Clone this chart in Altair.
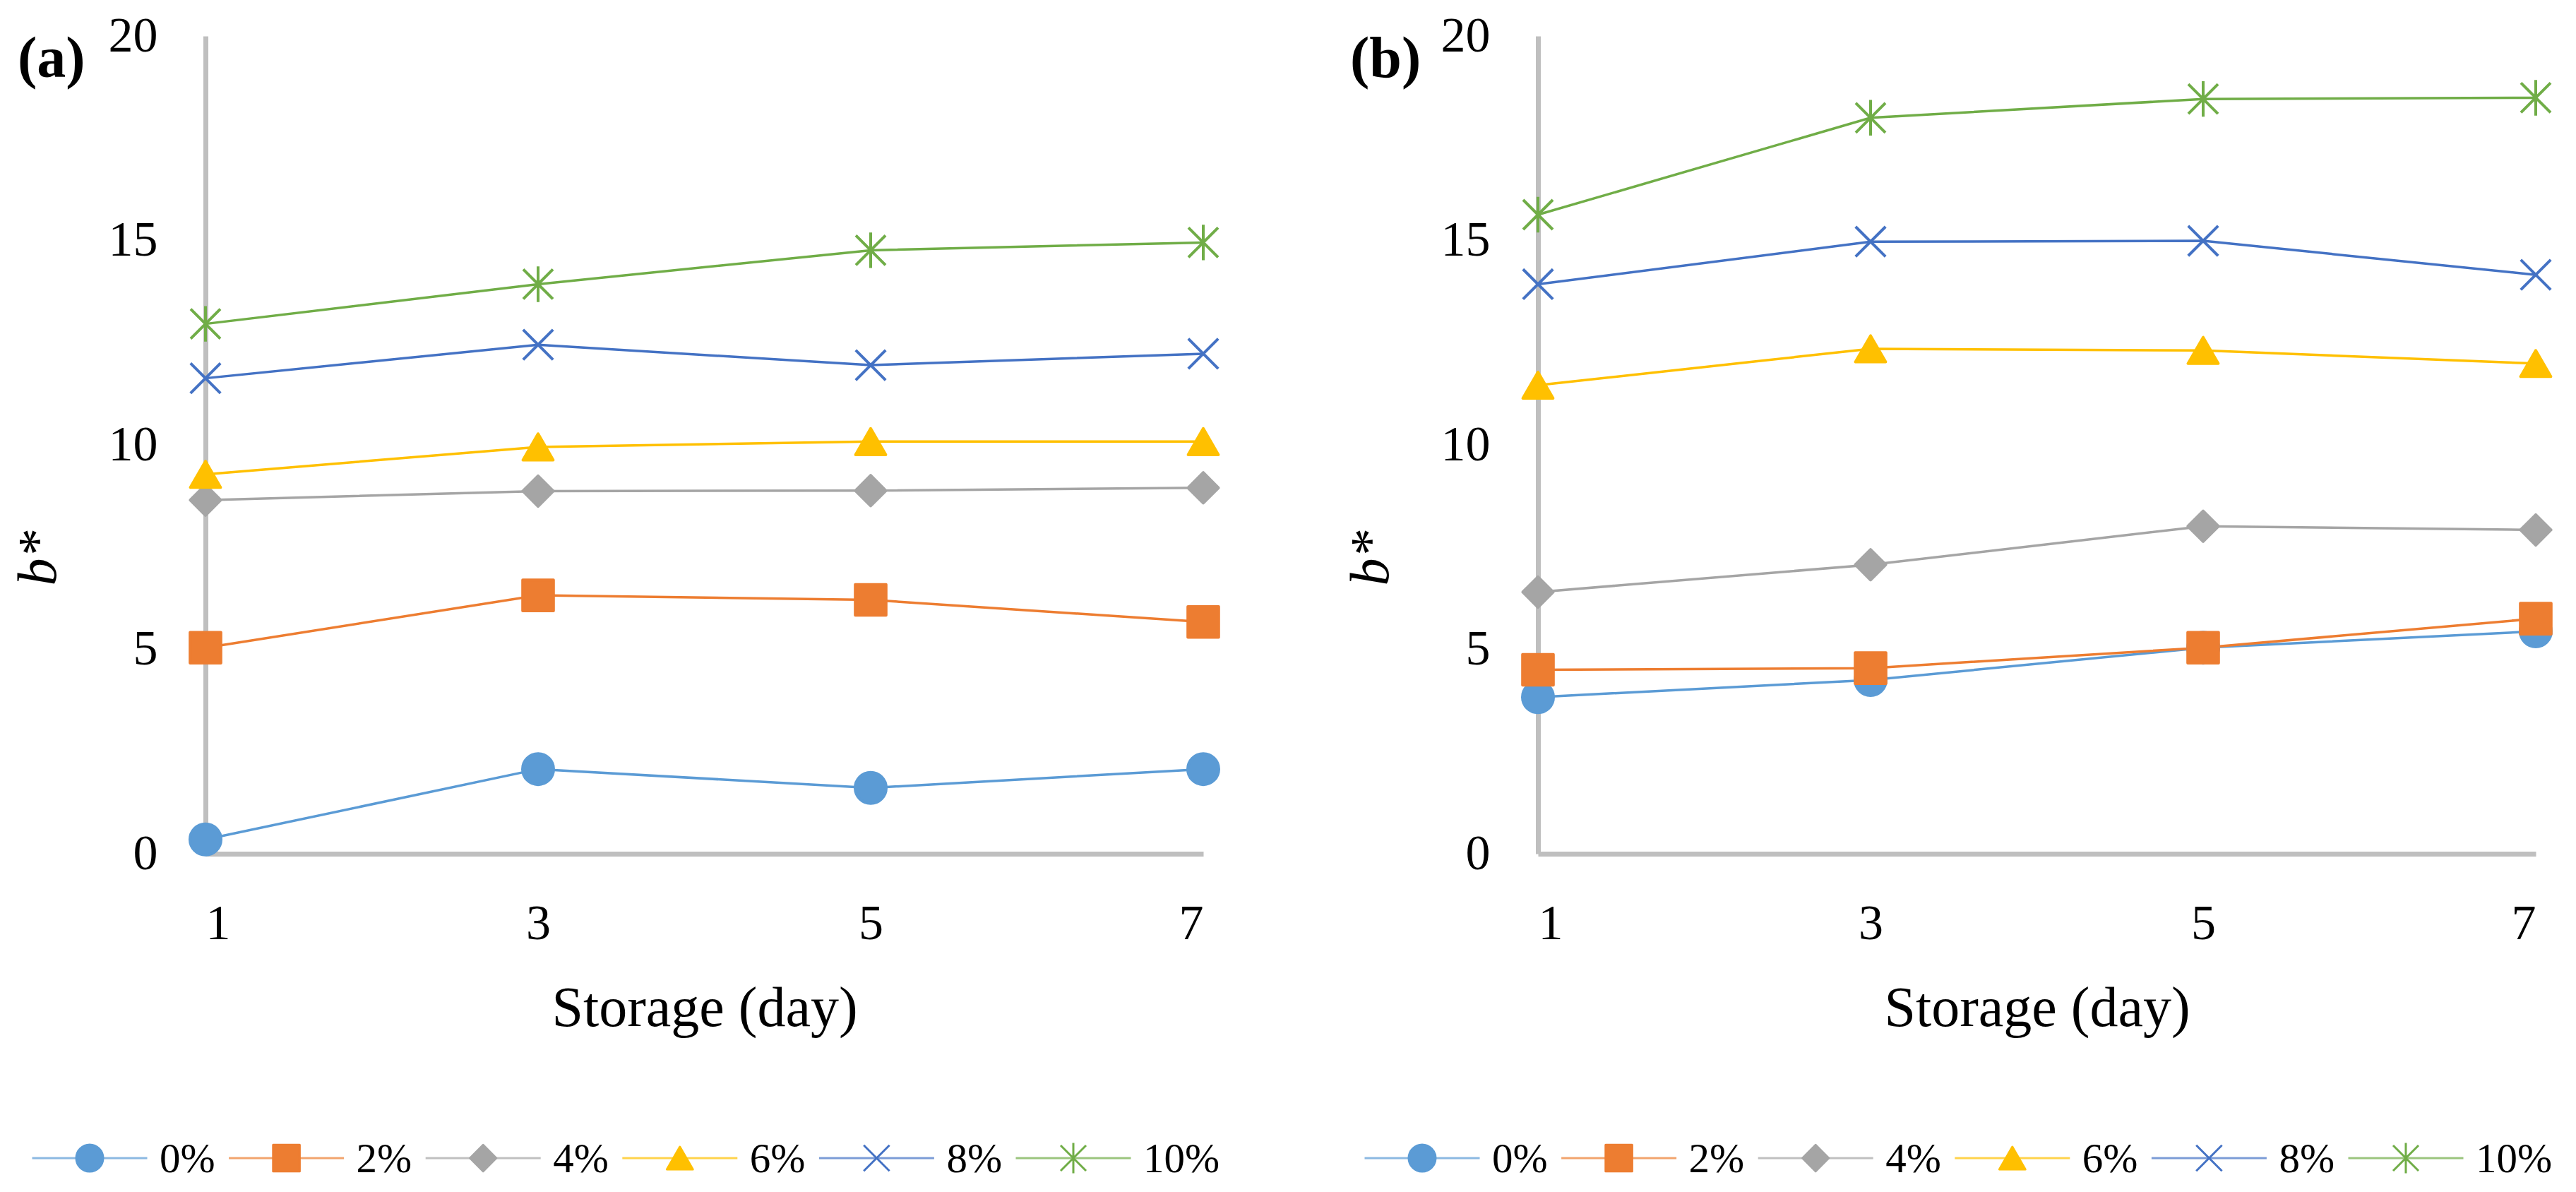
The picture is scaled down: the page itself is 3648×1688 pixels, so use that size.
import altair as alt
import pandas as pd

FONT = "Liberation Serif"

days = [1, 3, 5, 7]
series = ["0%", "2%", "4%", "6%", "8%", "10%"]
colors = ["#5B9BD5", "#ED7D31", "#A5A5A5", "#FFC000", "#4472C4", "#70AD47"]
shapes = ["circle", "square", "diamond", "triangle-up",
          "M-1,-1L1,1M-1,1L1,-1",
          "M-1,-1L1,1M-1,1L1,-1M0,-1.2L0,1.2"]
marker_sizes = [1936, 1764, 2116, 1849, 1156, 1156]
legend_sizes = [1444, 1296, 1444, 1156, 1000, 1000]

# panel (a)
a_0 = [0.35, 2.07, 1.61, 2.07]
a_2 = [5.04, 6.32, 6.21, 5.67]
a_4 = [8.65, 8.87, 8.88, 8.95]
a_6 = [9.28, 9.95, 10.08, 10.08]
a_8 = [11.63, 12.45, 11.95, 12.23]
a_10 = [12.96, 13.93, 14.76, 14.95]

# panel (b)
b_0 = [3.83, 4.25, 5.04, 5.44]
b_2 = [4.50, 4.54, 5.04, 5.75]
b_4 = [6.40, 7.07, 8.01, 7.92]
b_6 = [11.46, 12.35, 12.31, 11.99]
b_8 = [13.93, 14.97, 14.99, 14.16]
b_10 = [15.63, 18.00, 18.46, 18.49]

y_ticks = [0, 5, 10, 15, 20]


def long_df(cols):
    rows = []
    for name, vals in zip(series, cols):
        for d, v in zip(days, vals):
            rows.append({"day": d, "series": name, "value": v})
    return pd.DataFrame(rows)


df_a = long_df([a_0, a_2, a_4, a_6, a_8, a_10])
df_b = long_df([b_0, b_2, b_4, b_6, b_8, b_10])
leg_df = pd.DataFrame({"series": series})

W, H = 1413, 1158
LEG_Y = 1589


def panel(df, letter):
    cscale = alt.Scale(domain=series, range=colors)
    stroke = alt.Stroke("series:N", scale=cscale, legend=None)
    fill = alt.Fill("series:N", scale=cscale, legend=None)
    shape = alt.Shape("series:N", scale=alt.Scale(domain=series, range=shapes), legend=None)

    x = alt.X("day:Q",
              scale=alt.Scale(domain=[1, 7], nice=False, zero=False),
              axis=alt.Axis(values=days, title="Storage (day)", format="d",
                            labelPadding=65, titleY=243, titleX=W / 2,
                            titleBaseline="alphabetic", titleAlign="center",
                            titleFontSize=80, titleFontWeight="normal"))
    y = alt.Y("value:Q",
              scale=alt.Scale(domain=[0, 20], nice=False),
              axis=alt.Axis(values=y_ticks, title="b*", labelPadding=68,
                            titleX=-236, titleY=739, titleAngle=270,
                            titleAlign="center", titleBaseline="middle",
                            titleFontSize=78, titleFontStyle="italic",
                            titleFontWeight="normal"))

    base = alt.Chart(df)
    lines = base.mark_line(strokeWidth=3.5).encode(
        x=x, y=y, stroke=stroke, detail="series:N", order="day:Q")
    pts = base.mark_point(filled=True, strokeWidth=4, opacity=1, strokeJoin="round").encode(
        x=x, y=y, fill=fill, stroke=stroke, shape=shape,
        size=alt.Size("series:N", scale=alt.Scale(domain=series, range=marker_sizes), legend=None))
    data_layer = alt.layer(lines, pts)

    lx = alt.X("series:N", scale=alt.Scale(type="point", domain=series,
                                           range=[-164, 1229], padding=0), axis=None)
    lbase = alt.Chart(leg_df)
    ltick = lbase.mark_tick(orient="horizontal", size=163, thickness=3).encode(
        x=lx, y=alt.value(LEG_Y), color=alt.Color("series:N", scale=cscale, legend=None))
    lpts = lbase.mark_point(filled=True, strokeWidth=3, opacity=1, strokeJoin="round").encode(
        x=lx, y=alt.value(LEG_Y), fill=fill, stroke=stroke, shape=shape,
        size=alt.Size("series:N", scale=alt.Scale(domain=series, range=legend_sizes), legend=None))
    ltext = lbase.mark_text(align="left", baseline="middle", dx=99, dy=2,
                            fontSize=59, font=FONT, color="black").encode(
        x=lx, y=alt.value(LEG_Y), text="series:N")
    leg_layer = alt.layer(ltick, lpts, ltext)

    return alt.layer(data_layer, leg_layer).resolve_scale(
        x="independent", size="independent").properties(
        width=W, height=H,
        title=alt.Title(letter, anchor="start", frame="bounds", fontSize=82,
                        fontWeight="bold", font=FONT, color="black",
                        baseline="top", dx=9, dy=114))


chart = alt.hconcat(panel(df_a, "(a)"), panel(df_b, "(b)"), spacing=175).properties(
    padding={"left": 8, "top": 8, "right": 0, "bottom": 0}
).configure_view(stroke=None).configure_axis(
    grid=False, ticks=False, tickSize=0,
    domainColor="#BFBFBF", domainWidth=7,
    labelFont=FONT, titleFont=FONT, labelFontSize=70,
    labelColor="black", titleColor="black",
).configure_title(font=FONT)

chart.save("out.html", embed_options={"renderer": "svg", "actions": False})
